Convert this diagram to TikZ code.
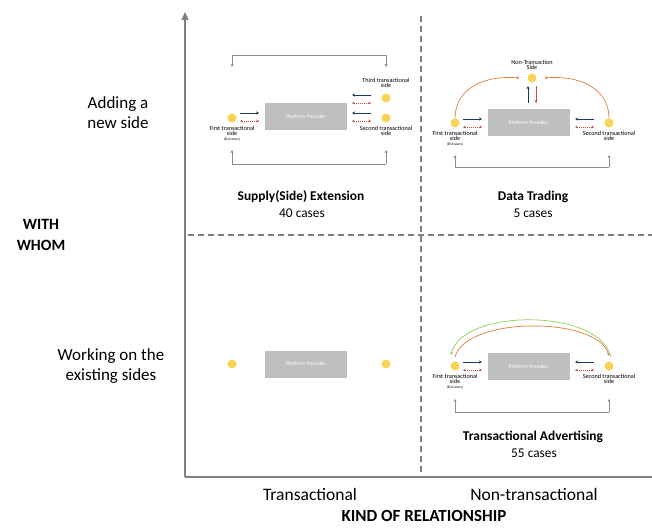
\documentclass[tikz,border=0pt]{standalone}
\usepackage{fontspec}
\setmainfont{Carlito}
\usetikzlibrary{arrows.meta}
\definecolor{axisgray}{HTML}{808080}
\definecolor{boxgray}{HTML}{BFBFBF}
\definecolor{dotyel}{HTML}{FAD254}
\definecolor{navy}{HTML}{203864}
\definecolor{dred}{HTML}{C0504D}
\definecolor{orng}{HTML}{E07B39}
\definecolor{lgreen}{HTML}{8FD15A}
\definecolor{brgray}{HTML}{8C8C8C}
\tikzset{
  pp/.style={fill=boxgray,draw=none,minimum width=82pt,minimum height=27pt,text=white,font=\fontsize{5.5}{6}\selectfont,inner sep=0pt},
  dot/.style={circle,fill=dotyel,minimum size=9pt,inner sep=0pt},
  tiny/.style={font=\fontsize{6.2}{5.3}\selectfont,align=center,inner sep=0pt},
  tinier/.style={font=\fontsize{3.6}{4}\selectfont,inner sep=0pt},
  navyarr/.style={draw=navy,line width=0.8pt,-{Stealth[length=3pt,width=3pt]}},
  redarr/.style={draw=dred,line width=0.6pt,dash pattern=on 1.2pt off 0.8pt,{Stealth[length=2.5pt,width=2.5pt]}-{Stealth[length=2.5pt,width=2.5pt]}},
  bracket/.style={draw=brgray,line width=0.5pt},
  brarr/.style={draw=brgray,line width=0.5pt,-{Stealth[length=3pt,width=3pt]}},
  quadlab/.style={font=\bfseries\fontsize{13.4}{16}\selectfont,inner sep=0pt},
  caselab/.style={font=\fontsize{13.4}{16}\selectfont,inner sep=0pt},
  sidelab/.style={font=\fontsize{17}{19.5}\selectfont,align=center,inner sep=0pt},
  axislab/.style={font=\fontsize{17.5}{20}\selectfont,inner sep=0pt},
  divider/.style={draw=axisgray,line width=1.2pt,dash pattern=on 6pt off 4pt},
}
\begin{document}
\begin{tikzpicture}[x=1pt,y=-1pt]
\useasboundingbox (0,0) rectangle (652,527);
% axes
\coordinate (o) at (185,477);
\coordinate (ytop) at (185,12);
\coordinate (xend) at (652,477);
\draw[draw=axisgray,line width=1.2pt,-{Triangle[length=8pt,width=7pt]}] (o) -- (ytop);
\draw[draw=axisgray,line width=1.2pt] (o) -- (xend);
% dividers
\coordinate (vd1) at (421,16);
\coordinate (vd2) at (421,477);
\coordinate (hd1) at (188,235);
\coordinate (hd2) at (652,235);
\draw[divider] (vd1) -- (vd2);
\draw[divider] (hd1) -- (hd2);
% axis labels
\node[sidelab] (add) at (118,112.5) {Adding a\\new side};
\node[sidelab] (work) at (111,366) {Working on the\\existing sides};
\node[font=\bfseries\fontsize{15.7}{21}\selectfont,align=center,inner sep=0pt] (who) at (41,234.5) {WITH\\WHOM};
\node[axislab] (tr) at (310,494) {Transactional};
\node[axislab] (ntr) at (534,494) {Non-transactional};
\node[font=\bfseries\fontsize{17}{20}\selectfont,inner sep=0pt,anchor=base] (kind) at (424,521.5) {KIND OF RELATIONSHIP};

% ===== Quadrant TL: Supply(Side) Extension =====
\node[pp] (p1) at (306,116.5) {Platform Provider};
\node[dot] (a1) at (232,118) {};
\node[dot] (b1) at (386,118) {};
\node[dot] (c1) at (386,98) {};
\node[tiny,anchor=north] (a1l) at (232,126) {First transactional\\side};
\node[tinier] (a1e) at (232,139) {(End users)};
\node[tiny,anchor=north] (b1l) at (386,126) {Second transactional\\side};
\node[tiny,anchor=south] (c1l) at (386,88) {Third transactional\\side};
\coordinate (a1n1) at (240,113); \coordinate (a1n2) at (259,113);
\coordinate (a1r1) at (240,121); \coordinate (a1r2) at (259,121);
\draw[navyarr] (a1n1) -- (a1n2);
\draw[redarr] (a1r1) -- (a1r2);
\coordinate (c1n1) at (371,95); \coordinate (c1n2) at (352,95);
\coordinate (c1r1) at (371,103); \coordinate (c1r2) at (352,103);
\draw[navyarr] (c1n1) -- (c1n2);
\draw[redarr] (c1r1) -- (c1r2);
\coordinate (b1n1) at (371,113); \coordinate (b1n2) at (352,113);
\coordinate (b1r1) at (371,121); \coordinate (b1r2) at (352,121);
\draw[navyarr] (b1n1) -- (b1n2);
\draw[redarr] (b1r1) -- (b1r2);
\coordinate (t1l) at (232,55); \coordinate (t1r) at (386,55);
\coordinate (t1le) at (232,67); \coordinate (t1re) at (386,67);
\draw[bracket] (t1l) -- (t1r);
\draw[brarr] (t1l) -- (t1le);
\draw[brarr] (t1r) -- (t1re);
\coordinate (u1l) at (232,164); \coordinate (u1r) at (386,164);
\coordinate (u1le) at (232,150); \coordinate (u1re) at (386,150);
\draw[bracket] (u1l) -- (u1r);
\draw[brarr] (u1l) -- (u1le);
\draw[brarr] (u1r) -- (u1re);
\node[quadlab] (q1t) at (301,197) {Supply(Side) Extension};
\node[caselab] (q1c) at (302,213.5) {40 cases};

% ===== Quadrant TR: Data Trading =====
\node[pp] (p2) at (528.5,122.5) {Platform Provider};
\node[dot] (a2) at (455,123) {};
\node[dot] (b2) at (609,123) {};
\node[dot] (c2) at (532,78) {};
\node[tiny,anchor=north] (a2l) at (455,131) {First transactional\\side};
\node[tinier] (a2e) at (455,144) {(End users)};
\node[tiny,anchor=north] (b2l) at (609,131) {Second transactional\\side};
\node[tiny,anchor=south] (c2l) at (532,70) {Non-Transaction\\Side};
\coordinate (a2n1) at (463,119); \coordinate (a2n2) at (482,119);
\coordinate (a2r1) at (463,127); \coordinate (a2r2) at (482,127);
\draw[navyarr] (a2n1) -- (a2n2);
\draw[redarr] (a2r1) -- (a2r2);
\coordinate (b2n1) at (594,119); \coordinate (b2n2) at (575,119);
\coordinate (b2r1) at (594,127); \coordinate (b2r2) at (575,127);
\draw[navyarr] (b2n1) -- (b2n2);
\draw[redarr] (b2r1) -- (b2r2);
\coordinate (c2u1) at (528,103); \coordinate (c2u2) at (528,86);
\coordinate (c2d1) at (536,86); \coordinate (c2d2) at (536,103);
\draw[navyarr] (c2u1) -- (c2u2);
\draw[draw=dred,line width=0.8pt,-{Stealth[length=3pt,width=3pt]}] (c2d1) -- (c2d2);
\draw[draw=orng,line width=0.7pt,-{Stealth[length=3pt,width=3pt]}] (a2.north) .. controls (455,88) and (485,75) .. ([xshift=-8pt]c2.west);
\draw[draw=orng,line width=0.7pt,-{Stealth[length=3pt,width=3pt]}] (b2.north) .. controls (609,88) and (579,75) .. ([xshift=8pt]c2.east);
\coordinate (u2l) at (455,167); \coordinate (u2r) at (609,167);
\coordinate (u2le) at (455,155); \coordinate (u2re) at (609,155);
\draw[bracket] (u2l) -- (u2r);
\draw[brarr] (u2l) -- (u2le);
\draw[brarr] (u2r) -- (u2re);
\node[quadlab] (q2t) at (533,197) {Data Trading};
\node[caselab] (q2c) at (533,213.5) {5 cases};

% ===== Quadrant BL =====
\node[pp] (p3) at (306,364) {Platform Provider};
\node[dot] (a3) at (232,364) {};
\node[dot] (b3) at (386,364) {};

% ===== Quadrant BR: Transactional Advertising =====
\node[pp] (p4) at (528.5,366.5) {Platform Provider};
\node[dot] (a4) at (455,366) {};
\node[dot] (b4) at (609,366) {};
\node[tiny,anchor=north] (a4l) at (455,374) {First transactional\\side};
\node[tinier] (a4e) at (455,387) {(End users)};
\node[tiny,anchor=north] (b4l) at (609,374) {Second transactional\\side};
\coordinate (a4n1) at (463,362); \coordinate (a4n2) at (482,362);
\coordinate (a4r1) at (463,370); \coordinate (a4r2) at (482,370);
\draw[navyarr] (a4n1) -- (a4n2);
\draw[redarr] (a4r1) -- (a4r2);
\coordinate (b4n1) at (594,362); \coordinate (b4n2) at (575,362);
\coordinate (b4r1) at (594,370); \coordinate (b4r2) at (575,370);
\draw[navyarr] (b4n1) -- (b4n2);
\draw[redarr] (b4r1) -- (b4r2);
\coordinate (g4s) at (611,357); \coordinate (g4e) at (451,355);
\draw[draw=lgreen,line width=0.7pt,-{Stealth[length=3pt,width=3pt]}] (g4s) .. controls (600,308) and (462,308) .. (g4e);
\coordinate (o4s) at (455,357); \coordinate (o4e) at (609,356);
\draw[draw=orng,line width=0.7pt,-{Stealth[length=3pt,width=3pt]}] (o4s) .. controls (466,316) and (598,316) .. (o4e);
\coordinate (u4l) at (455,412); \coordinate (u4r) at (609,412);
\coordinate (u4le) at (455,399); \coordinate (u4re) at (609,399);
\draw[bracket] (u4l) -- (u4r);
\draw[brarr] (u4l) -- (u4le);
\draw[brarr] (u4r) -- (u4re);
\node[quadlab] (q4t) at (533,437) {Transactional Advertising};
\node[caselab] (q4c) at (534,453.5) {55 cases};
\end{tikzpicture}
\end{document}
